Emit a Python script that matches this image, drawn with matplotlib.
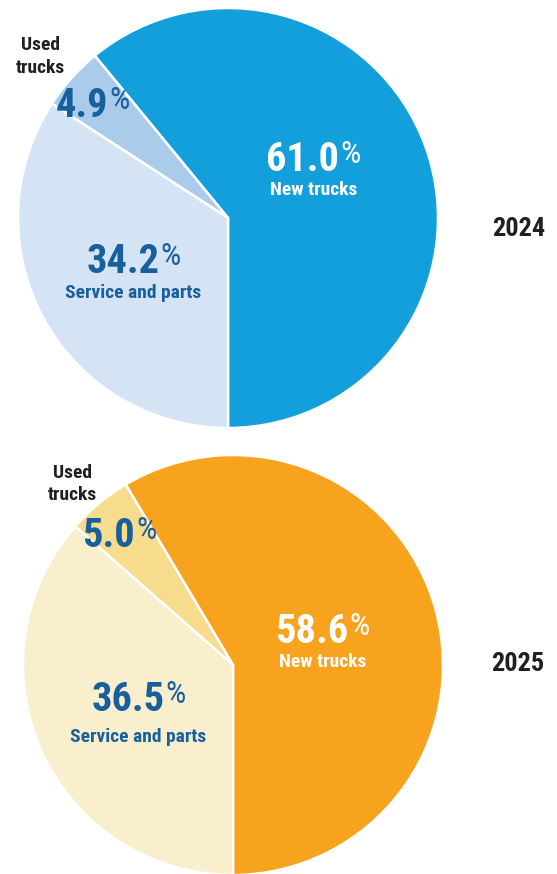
import matplotlib
matplotlib.use("Agg")
import matplotlib.pyplot as plt
from matplotlib import font_manager as fm

# Revenue split by segment
segments = ["New trucks", "Used trucks", "Service and parts"]
share_2024 = [61.0, 4.9, 34.2]
share_2025 = [58.6, 5.0, 36.5]
years = ["2024", "2025"]

colors_2024 = ["#129FDB", "#AACBEA", "#D5E4F4"]
colors_2025 = ["#F7A31D", "#F6DC8C", "#FAEFCD"]
TEXT_BLUE = "#17609D"
TEXT_DARK = "#231F20"

# pick a narrow bold face if one is installed
names = {f.name for f in fm.fontManager.ttflist}
FONT = "DejaVu Sans"
for cand in ["Roboto Condensed", "Open Sans Condensed", "Liberation Sans Narrow",
             "DejaVu Sans Condensed"]:
    if cand in names:
        FONT = cand
        break

W, H = 557, 874
PX = 100 / 72  # pixels per point
fig = plt.figure(figsize=(W / 100, H / 100), dpi=100)
ax = fig.add_axes([0, 0, 1, 1])
ax.set_xlim(0, W)
ax.set_ylim(0, H)
ax.set_aspect("equal")
ax.axis("off")
renderer = fig.canvas.get_renderer()


def pct_label(x, y_base, value, color, size=29):
    # number plus a smaller raised percent sign, centred on x
    psize = size * 0.8
    num = ax.text(0, H - y_base, f"{value:.1f}", fontsize=size, fontweight="bold",
                  family=FONT, color=color, ha="left", va="baseline")
    pc = ax.text(0, 0, "%", fontsize=psize, fontweight="normal",
                 family=FONT, color=color, ha="left", va="baseline")
    wn = num.get_window_extent(renderer).width
    wp = pc.get_window_extent(renderer).width
    x0 = x - (wn + wp) / 2
    num.set_x(x0)
    lift = 0.71 * (size - psize) * PX + 2
    pc.set_position((x0 + wn + 1, H - y_base + lift))


def small(x, y_base, s, color, size=14):
    ax.text(x, H - y_base, s, fontsize=size, fontweight="bold", family=FONT,
            color=color, ha="center", va="baseline")


# baselines in pixels from the top of the figure
layout = [
    dict(center=(228, 218), values=share_2024, colors=colors_2024, year_pos=(519, 236),
         new=(313, 171, 195), service=(133, 273, 298), used=(92, 117),
         used_txt=(40, 50, 73)),
    dict(center=(233, 665), values=share_2025, colors=colors_2025, year_pos=(518, 671),
         new=(322, 643, 667), service=(138, 711, 742), used=(119, 547),
         used_txt=(72, 478, 500)),
]

for yr, p in zip(years, layout):
    cx, cy = p["center"]
    ax.pie(p["values"], colors=p["colors"], center=(cx, H - cy), radius=210,
           startangle=-90, counterclock=True,
           wedgeprops=dict(edgecolor="white", linewidth=1.8))

    new_v, used_v, serv_v = p["values"]
    nx, nb, lb = p["new"]
    pct_label(nx, nb, new_v, "white")
    small(nx + 1, lb, segments[0], "white")
    sx, sb, slb = p["service"]
    pct_label(sx, sb, serv_v, TEXT_BLUE)
    small(sx, slb, segments[2], TEXT_BLUE)
    pct_label(p["used"][0], p["used"][1], used_v, TEXT_BLUE)
    ux, ub1, ub2 = p["used_txt"]
    used_a, used_b = segments[1].split()
    small(ux, ub1, used_a, TEXT_DARK)
    small(ux, ub2, used_b, TEXT_DARK)
    ax.text(p["year_pos"][0], H - p["year_pos"][1], yr, fontsize=19, fontweight="bold",
            family=FONT, color=TEXT_DARK, ha="center", va="baseline")

ax.set_xlim(0, W)
ax.set_ylim(0, H)
ax.set_aspect("equal")
fig.savefig("out.png", dpi=100)
